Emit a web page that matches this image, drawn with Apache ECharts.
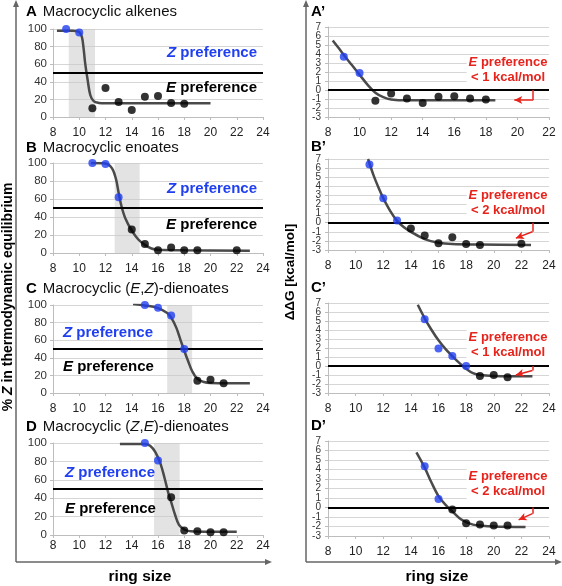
<!DOCTYPE html>
<html><head><meta charset="utf-8">
<script src="https://cdn.jsdelivr.net/npm/echarts@6/dist/echarts.min.js"></script>
<style>html,body{margin:0;padding:0;background:#fff}#c{width:562px;height:586px}</style>
</head><body><div id="c"></div>
<script>
// ---------- data ----------
// Left column: % Z in thermodynamic equilibrium
const A_blue  = [[9,100],[10,96]];
const A_black = [[11,10],[12,33],[13,17],[14,8],[15,23],[16,24],[17,16],[18,15]];
const A_fit   = [[8.3,98],[9.5,98],[10,96.5],[10.2,91],[10.33,78],[10.46,60],[10.64,42],[10.84,25],[11.1,18],[11.5,16],[12,15.5],[20,15.5]];
const A_band  = [9.2,11.2];

const B_blue  = [[11,100],[12,99],[13,62]];
const B_black = [[14,26],[15,10],[16,3],[17,6],[18,3],[19,3],[22,3]];
const B_fit   = [[10.9,100],[12,99.5],[12.5,94],[12.8,82],[13.0,67],[13.2,53],[13.5,39],[14,25],[14.5,15],[15,9],[15.5,5],[16,3.5],[18,3],[23,2.5]];
const B_band  = [12.7,14.6];

const C_blue  = [[15,100],[16,97],[17,88],[18,50]];
const C_black = [[19,14],[20,15],[21,11]];
const C_fit   = [[14.1,101],[15,99.5],[16,96.5],[16.7,91],[17,86],[17.4,74],[17.7,61],[18,48],[18.3,36],[18.6,25],[19,16],[19.5,12.5],[20,11.5],[23,11]];
const C_band  = [16.7,18.6];

const D_blue  = [[15,100],[16,81]];
const D_black = [[17,41],[18,5],[19,4],[20,3],[21,3]];
const D_fit   = [[13.1,99],[15,99],[15.4,97],[15.8,90],[16.2,77],[16.5,62],[16.8,45],[17,36],[17.3,22],[17.6,11],[18,6],[18.5,4],[20,3.5],[22,3.5]];
const D_band  = [15.7,17.65];

// Right column: ΔΔG [kcal/mol]
const Ap_blue  = [[9,3.7],[10,1.9]];
const Ap_black = [[11,-1.2],[12,-0.4],[13,-0.95],[14,-1.45],[15,-0.75],[16,-0.7],[17,-0.95],[18,-1.05]];
const Ap_fit   = [[8.3,5.5],[8.7,4.6],[9,3.9],[9.5,2.8],[10,1.7],[10.5,0.6],[11,-0.3],[11.5,-0.8],[12,-1.05],[13,-1.15],[18.6,-1.15]];

const Bp_blue  = [[11,6.4],[12,2.7],[13,0.25]];
const Bp_black = [[14,-0.65],[15,-1.4],[16,-2.25],[17,-1.6],[18,-2.35],[19,-2.45],[22,-2.3]];
const Bp_fit   = [[10.9,7],[11.3,5.2],[11.7,3.7],[12,2.7],[12.5,1.3],[13,0.2],[13.5,-0.5],[14,-1.0],[15,-1.8],[16,-2.2],[17,-2.35],[19,-2.4],[22.7,-2.45]];

const Cp_blue  = [[15,5.2],[16,1.95],[17,1.1],[18,0.0]];
const Cp_black = [[19,-1.1],[20,-1.0],[21,-1.25]];
const Cp_fit   = [[14.5,6.8],[15,5.3],[15.5,4.0],[16,2.85],[16.5,1.9],[17,1.1],[17.5,0.35],[18,-0.3],[18.5,-0.8],[19,-1.0],[20,-1.1],[22.8,-1.15]];

const Dp_blue  = [[15,4.35],[16,0.9]];
const Dp_black = [[17,-0.2],[18,-1.65],[19,-1.8],[20,-1.9],[21,-1.9]];
const Dp_fit   = [[14.4,5.8],[15,4.2],[15.5,2.6],[16,1.2],[16.5,0.3],[17,-0.4],[17.5,-1.1],[18,-1.55],[18.5,-1.8],[19,-1.9],[20,-2.0],[22.3,-2.05]];

// arrows (bracket from threshold line) : [x, yTop, yBottom, arrowX, arrowY]
const Ap_arrow = [21, 0, -1.1, 19.8, -1.1];
const Bp_arrow = [22.8, 0, -1.0, 21.6, -1.7];
const Cp_arrow = [22.8, 0, -0.5, 21.6, -1.0];
const Dp_arrow = [22.8, 0, -0.65, 21.8, -1.3];

const leftTicks  = {min:0, max:100, interval:20};
const rightTicks = {min:-3, max:7, interval:1};
const rightTickLabels = ['-3','-2','-1','0','1','2','3','4','5','6','7'];
const xRange = {min:8, max:24, interval:2};
const xRangeAp = {min:8, max:22, interval:2};

// ---------- layout ----------
const BLUE = '#1f3ff0', RED = '#e8231c', FIT = '#4a4a4a';
const FONT = '"Liberation Sans", Arial, Helvetica, sans-serif';

const panels = [
  {grid:{left:53,top:29,width:210,height:88}, x:xRange, y:leftTicks, blue:A_blue, black:A_black, fit:A_fit, band:A_band, thr:50, m:10},
  {grid:{left:53,top:163,width:210,height:90}, x:xRange, y:leftTicks, blue:B_blue, black:B_black, fit:B_fit, band:B_band, thr:50, m:10},
  {grid:{left:53,top:305,width:210,height:88}, x:xRange, y:leftTicks, blue:C_blue, black:C_black, fit:C_fit, band:C_band, thr:50, m:10},
  {grid:{left:53,top:443,width:210,height:92}, x:xRange, y:leftTicks, blue:D_blue, black:D_black, fit:D_fit, band:D_band, thr:50, m:5},
  {grid:{left:328,top:27,width:221,height:90}, x:xRangeAp, y:rightTicks, blue:Ap_blue, black:Ap_black, fit:Ap_fit, arrow:Ap_arrow, thr:0, m:10},
  {grid:{left:328,top:159,width:221,height:91}, x:xRange, y:rightTicks, blue:Bp_blue, black:Bp_black, fit:Bp_fit, arrow:Bp_arrow, thr:0, m:10},
  {grid:{left:328,top:303,width:221,height:90}, x:xRange, y:rightTicks, blue:Cp_blue, black:Cp_black, fit:Cp_fit, arrow:Cp_arrow, thr:0, m:10},
  {grid:{left:328,top:441,width:221,height:95}, x:xRange, y:rightTicks, blue:Dp_blue, black:Dp_black, fit:Dp_fit, arrow:Dp_arrow, thr:0, m:10}
];

const grids=[], xAxes=[], yAxes=[], series=[];
panels.forEach((p,i)=>{
  const right = i>=4;
  grids.push(p.grid);
  xAxes.push({type:'value', gridIndex:i, min:p.x.min, max:p.x.max, interval:p.x.interval,
    axisLine:{onZero:false, lineStyle:{color:'#bdbdbd'}}, axisTick:{show:true,length:3,lineStyle:{color:'#bdbdbd'}},
    splitLine:{show:false},
    axisLabel:{color:'#222', fontSize:12, fontFamily:FONT, margin:p.m, hideOverlap:false, showMinLabel:true, showMaxLabel:true}});
  const yIdx = yAxes.length;
  yAxes.push({type:'value', gridIndex:i, min:p.y.min, max:p.y.max, interval:p.y.interval,
    axisLine:{show:true, lineStyle:{color:'#bdbdbd'}}, axisTick:{show:true,length:3,lineStyle:{color:'#bdbdbd'}},
    splitLine:{show:true, lineStyle:{color:'#d6d6d6'}},
    axisLabel: right ? {show:false}
      : {color:'#333', fontSize:11.5, fontFamily:FONT, margin:6, hideOverlap:false, showMinLabel:true, showMaxLabel:true}});
  if (right) {
    // label-only companion axis so that every tick label of the dense ΔΔG scale is shown
    yAxes.push({type:'category', gridIndex:i, data:rightTickLabels, boundaryGap:false, position:'left',
      axisLine:{show:false}, axisTick:{show:false}, splitLine:{show:false},
      axisLabel:{interval:0, color:'#333', fontSize:10, fontFamily:FONT, margin:7}});
  }
  const mlData = [[{coord:[p.x.min,p.thr]},{coord:[p.x.max,p.thr]}]];
  if (p.arrow){
    const a=p.arrow;
    mlData.push([{coord:[a[0],a[1]],symbol:'none'},{coord:[a[0],a[2]],symbol:'none'}]);
    mlData.push([{coord:[a[0],a[2]],symbol:'none'},{coord:[a[3],a[4]],symbol:'arrow',symbolSize:[6,8]}]);
  }
  series.push({type:'line', xAxisIndex:i, yAxisIndex:yIdx, data:p.fit, smooth:0.35, showSymbol:false,
    lineStyle:{color:FIT,width:2.5}, z:3, silent:true,
    markArea: p.band ? {silent:true, itemStyle:{color:'rgba(200,200,200,0.5)'}, data:[[{xAxis:p.band[0]},{xAxis:p.band[1]}]]} : undefined,
    markLine:{silent:true, symbol:'none', label:{show:false}, animation:false,
      lineStyle:{color:'#000',width:2,type:'solid'},
      data: mlData.map((d,k)=> k===0 ? d : [Object.assign({},d[0],{lineStyle:{color:RED,width:1.5,type:'solid'}}), Object.assign({},d[1],{itemStyle:{color:RED}})])}
  });
  series.push({type:'scatter', xAxisIndex:i, yAxisIndex:yIdx, data:p.blue, symbolSize:8, itemStyle:{color:BLUE}, z:5});
  series.push({type:'scatter', xAxisIndex:i, yAxisIndex:yIdx, data:p.black, symbolSize:8, itemStyle:{color:'#000'}, z:5});
});

// text & frame graphics
const pref = (letter, color, x, y, align) => ({type:'text', x, y, silent:true, z:10,
  style:{text:'{z|'+letter+'}{p| preference}', align:align, verticalAlign:'middle',
    rich:{z:{fontStyle:'italic',fontWeight:'bold',fontFamily:FONT,fontSize:15,fill:color},
          p:{fontWeight:'bold',fontFamily:FONT,fontSize:15,fill:color}}}});
const redNote = (num, x, y) => ({type:'text', x, y, silent:true, z:10,
  style:{text:'{e|E}{p| preference}\n{p|< '+num+' kcal/mol}', align:'center', verticalAlign:'top', lineHeight:15,
    backgroundColor:'#fff', padding:[0,2,0,2],
    rich:{e:{fontStyle:'italic',fontWeight:'bold',fontFamily:FONT,fontSize:13,fill:RED,lineHeight:15},
          p:{fontWeight:'bold',fontFamily:FONT,fontSize:13,fill:RED,lineHeight:15}}}});
const title = (letter, rest, x, y) => ({type:'text', x, y, silent:true,
  style:{text:'{L|'+letter+'}'+rest, verticalAlign:'middle',
    rich:{L:{fontWeight:'bold',fontFamily:FONT,fontSize:15,fill:'#000',padding:[0,6,0,0]},
          n:{fontFamily:FONT,fontSize:15,fill:'#111'},
          i:{fontStyle:'italic',fontFamily:FONT,fontSize:15,fill:'#111'}}}});

const frameColor = '#666';
const graphic = [
  {type:'line', shape:{x1:16,y1:3,x2:16,y2:562}, style:{stroke:frameColor,lineWidth:1.5}, silent:true},
  {type:'line', shape:{x1:16,y1:562,x2:268,y2:562}, style:{stroke:frameColor,lineWidth:1.5}, silent:true},
  {type:'polygon', shape:{points:[[16,0],[13,7],[19,7]]}, style:{fill:frameColor}, silent:true},
  {type:'polygon', shape:{points:[[272,562],[265,559],[265,565]]}, style:{fill:frameColor}, silent:true},
  {type:'line', shape:{x1:306,y1:3,x2:306,y2:562}, style:{stroke:frameColor,lineWidth:1.5}, silent:true},
  {type:'line', shape:{x1:306,y1:562,x2:558,y2:562}, style:{stroke:frameColor,lineWidth:1.5}, silent:true},
  {type:'polygon', shape:{points:[[306,0],[303,7],[309,7]]}, style:{fill:frameColor}, silent:true},
  {type:'polygon', shape:{points:[[562,562],[555,559],[555,565]]}, style:{fill:frameColor}, silent:true},
  title('A','{n|Macrocyclic alkenes}',26,12),
  title('B','{n|Macrocyclic enoates}',26,148),
  title('C','{n|Macrocyclic (}{i|E}{n|,}{i|Z}{n|)-dienoates}',26,289),
  title('D','{n|Macrocyclic (}{i|Z}{n|,}{i|E}{n|)-dienoates}',26,427),
  title('A’','',311,12),
  title('B’','',311,147),
  title('C’','',311,288),
  title('D’','',311,426),
  pref('Z',BLUE,257,53,'right'), pref('E','#000',257,88,'right'),
  pref('Z',BLUE,257,189,'right'), pref('E','#000',257,225,'right'),
  pref('Z',BLUE,63,333,'left'), pref('E','#000',63,367,'left'),
  pref('Z',BLUE,65,473,'left'), pref('E','#000',65,509,'left'),
  redNote('1',508,55), redNote('2',508,188), redNote('1',508,330), redNote('2',508,469),
  {type:'text', x:8, y:297, rotation:Math.PI/2, silent:true,
   style:{text:'{b|% }{bi|Z}{b| in thermodynamic equilibrium}', align:'center', verticalAlign:'middle',
     rich:{b:{fontWeight:'bold',fontFamily:FONT,fontSize:14,fill:'#000'}, bi:{fontWeight:'bold',fontStyle:'italic',fontFamily:FONT,fontSize:14,fill:'#000'}}}},
  {type:'text', x:290, y:272, rotation:Math.PI/2, silent:true,
   style:{text:'ΔΔG [kcal/mol]', align:'center', verticalAlign:'middle', fontWeight:'bold', fontFamily:FONT, fontSize:13.5, fill:'#000'}},
  {type:'text', x:140, y:577, silent:true, style:{text:'ring size', align:'center', verticalAlign:'middle', fontWeight:'bold', fontFamily:FONT, fontSize:15.5, fill:'#000'}},
  {type:'text', x:437, y:577, silent:true, style:{text:'ring size', align:'center', verticalAlign:'middle', fontWeight:'bold', fontFamily:FONT, fontSize:15.5, fill:'#000'}}
];

const chart = echarts.init(document.getElementById('c'), null, {renderer:'canvas'});
chart.setOption({animation:false, backgroundColor:'#fff', grid:grids, xAxis:xAxes, yAxis:yAxes, series, graphic});
</script></body></html>
